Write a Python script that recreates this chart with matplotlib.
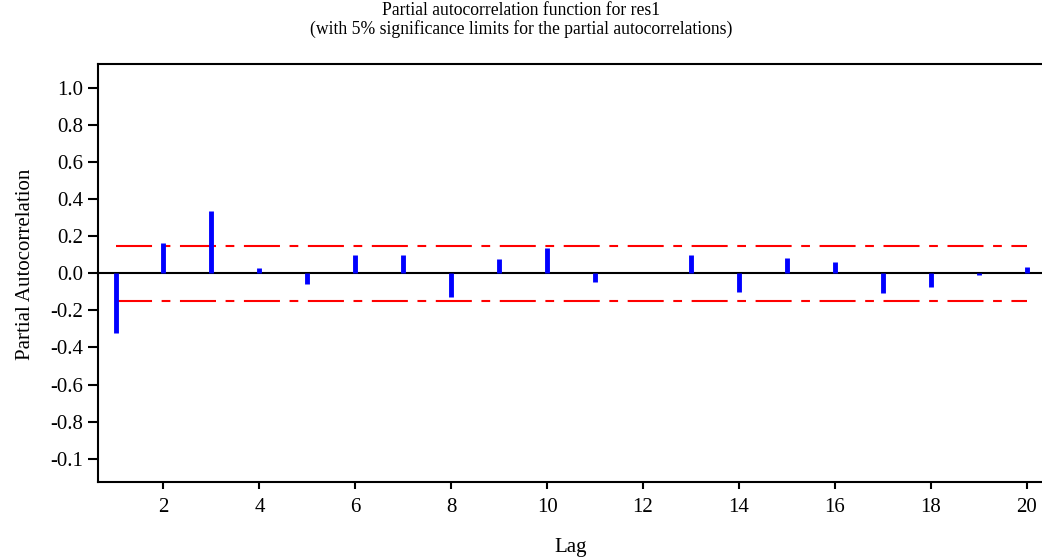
import matplotlib
matplotlib.use("Agg")
import matplotlib.pyplot as plt
import numpy as np

# data
lags = np.arange(1, 21)
pacf = [-0.324, 0.162, 0.336, 0.027, -0.058, 0.100, 0.100, -0.126, 0.077, 0.135,
        -0.049, 0.0, 0.097, -0.099, 0.084, 0.061, -0.108, -0.076, -0.010, 0.034]
limit = 0.15
y_ticks = [1.0, 0.8, 0.6, 0.4, 0.2, 0.0, -0.2, -0.4, -0.6, -0.8, -1.0]
y_tick_labels = ["1.0", "0.8", "0.6", "0.4", "0.2", "0.0", "-0.2", "-0.4", "-0.6", "-0.8", "-0.1"]
x_ticks = [2, 4, 6, 8, 10, 12, 14, 16, 18, 20]

plt.rcParams['font.family'] = ['Liberation Serif', 'DejaVu Serif']

fig = plt.figure(figsize=(10.42, 5.58), dpi=100)
ax = fig.add_axes([0.0943, 0.1367, 0.9057, 0.7483])

# significance limits
dash = (0, (17.3, 4.6, 4.2, 4.6))
ax.plot([lags[0], lags[-1]], [limit, limit], color="red", lw=1.5, linestyle=dash)
ax.plot([lags[0], lags[-1]], [-limit, -limit], color="red", lw=1.5, linestyle=dash)

# zero line and spikes
ax.axhline(0, color="black", lw=1.5, zorder=1)
ax.vlines(lags, 0, pacf, color="blue", lw=3.5, zorder=2)

ax.set_xlim(0.64, 20.32)
ax.set_ylim(-1.125, 1.13)
ax.set_xticks(x_ticks)
ax.set_yticks(y_ticks)
ax.set_yticklabels(y_tick_labels)
ax.tick_params(axis="y", direction="out", length=7, width=1.5, labelsize=15, pad=4)
ax.tick_params(axis="x", direction="out", length=5, width=1.5, labelsize=15, pad=7)

for side in ["left", "bottom", "top"]:
    ax.spines[side].set_linewidth(1.5)
ax.spines["right"].set_visible(False)

ax.set_xlabel("Lag", fontsize=15, labelpad=15)
ax.set_ylabel("Partial Autocorrelation", fontsize=15, labelpad=11)
ax.yaxis.label.set_y(0.52)
fig.suptitle("Partial autocorrelation function for res1\n"
             "(with 5% significance limits for the partial autocorrelations)",
             fontsize=12.7, y=0.997, linespacing=1.1)

fig.savefig("out.png", dpi=100)
